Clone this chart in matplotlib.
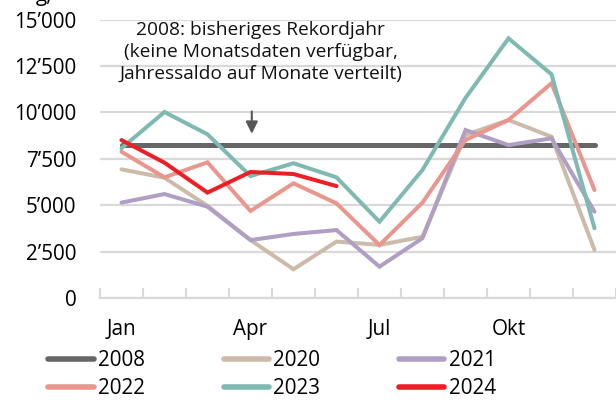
import matplotlib
matplotlib.use("Agg")
import matplotlib.pyplot as plt
from matplotlib.patches import Rectangle
import numpy as np

plt.rcParams['font.family'] = ['Open Sans', 'DejaVu Sans']

months = ["Jan", "Feb", "Mär", "Apr", "Mai", "Jun", "Jul", "Aug", "Sep", "Okt", "Nov", "Dez"]
tick_labels = ["Jan", "Apr", "Jul", "Okt"]

v2008 = [8250] * 12
v2020 = [6930, 6480, 4960, 3120, 1550, 3040, 2860, 3300, 8780, 9590, 8690, 2590]
v2021 = [5140, 5600, 4920, 3120, 3450, 3660, 1690, 3220, 9050, 8240, 8600, 4650]
v2022 = [7880, 6500, 7310, 4690, 6180, 5100, 2850, 5140, 8510, 9590, 11570, 5820]
v2023 = [8070, 10020, 8820, 6570, 7260, 6500, 4110, 6900, 10780, 13990, 12050, 3760]
v2024 = [8510, 7290, 5680, 6790, 6680, 6030]

series = [
    ("2008", v2008, "#666666", 3.6),
    ("2020", v2020, "#ccbba9", 2.9),
    ("2021", v2021, "#b09fc2", 2.9),
    ("2022", v2022, "#e8968e", 2.9),
    ("2023", v2023, "#7fbab2", 2.9),
    ("2024", v2024, "#ec1f27", 2.9),
]

fig = plt.figure(figsize=(6.16, 4.0), dpi=100)
ax = fig.add_axes([100/616, 1 - 298/400, 1 - 100/616, (298 - 19.6)/400])

x = np.arange(12)
handles = {}
for name, vals, col, lw in series:
    h, = ax.plot(x[:len(vals)], vals, color=col, lw=lw, label=name,
                 solid_capstyle='round', solid_joinstyle='miter', zorder=3)
    handles[name] = h

ax.set_xlim(-0.48, 11.46)
ax.set_ylim(0, 15000)
yt = np.arange(0, 15001, 2500)
ax.set_yticks(yt)
ax.set_yticklabels([f"{int(v):,}".replace(",", "\u2019") for v in yt])
ax.set_xticks([0, 3, 6, 9])
ax.set_xticklabels(tick_labels)
ax.set_xticks(np.arange(-0.5, 11.6, 1), minor=True)
ax.tick_params(axis='x', which='major', length=0, labelsize=14.9, pad=15)
ax.tick_params(axis='x', which='minor', length=7, direction='in', color='#d9d9d9', width=1.5)
ax.tick_params(axis='y', length=0, labelsize=14.9, pad=17)
ax.grid(axis='y', color='#d9d9d9', lw=1.6, zorder=0)
for s in ['top', 'right', 'left']:
    ax.spines[s].set_visible(False)
ax.spines['bottom'].set_color('#d9d9d9')
ax.spines['bottom'].set_linewidth(1.6)
ax.spines['bottom'].set_zorder(0.5)

# white background box behind annotation text (covers gridlines)
ax.add_patch(Rectangle((-0.6, 10950), 7.72, 4500, facecolor='white', edgecolor='none',
                       zorder=1, clip_on=False))
ax.text(3.24, 14900, "2008: bisheriges Rekordjahr\n(keine Monatsdaten verfügbar,\nJahressaldo auf Monate verteilt)",
        ha='center', va='top', fontsize=13.8, linespacing=1.25, color='#111111', zorder=4)
ax.annotate("", xy=(3.03, 8700), xytext=(3.03, 10200),
            arrowprops=dict(arrowstyle='-|>', color='#555555', lw=1.5, mutation_scale=18), zorder=4)

fig.text(52/616, 1 - 1/400, "g,", ha='right', va='baseline', fontsize=14.9)

order = ["2008", "2022", "2020", "2023", "2021", "2024"]
leg = fig.legend([handles[k] for k in order], order, loc='lower left',
                 bbox_to_anchor=(40/616, -0.019), ncol=3, frameon=False,
                 fontsize=14.9, handlelength=2.2, handletextpad=0.2, columnspacing=3.8,
                 labelspacing=0.33, borderaxespad=0.0)
for line in leg.get_lines():
    line.set_linewidth(4)
    line.set_solid_capstyle('round')

fig.savefig("out.png", dpi=100)
